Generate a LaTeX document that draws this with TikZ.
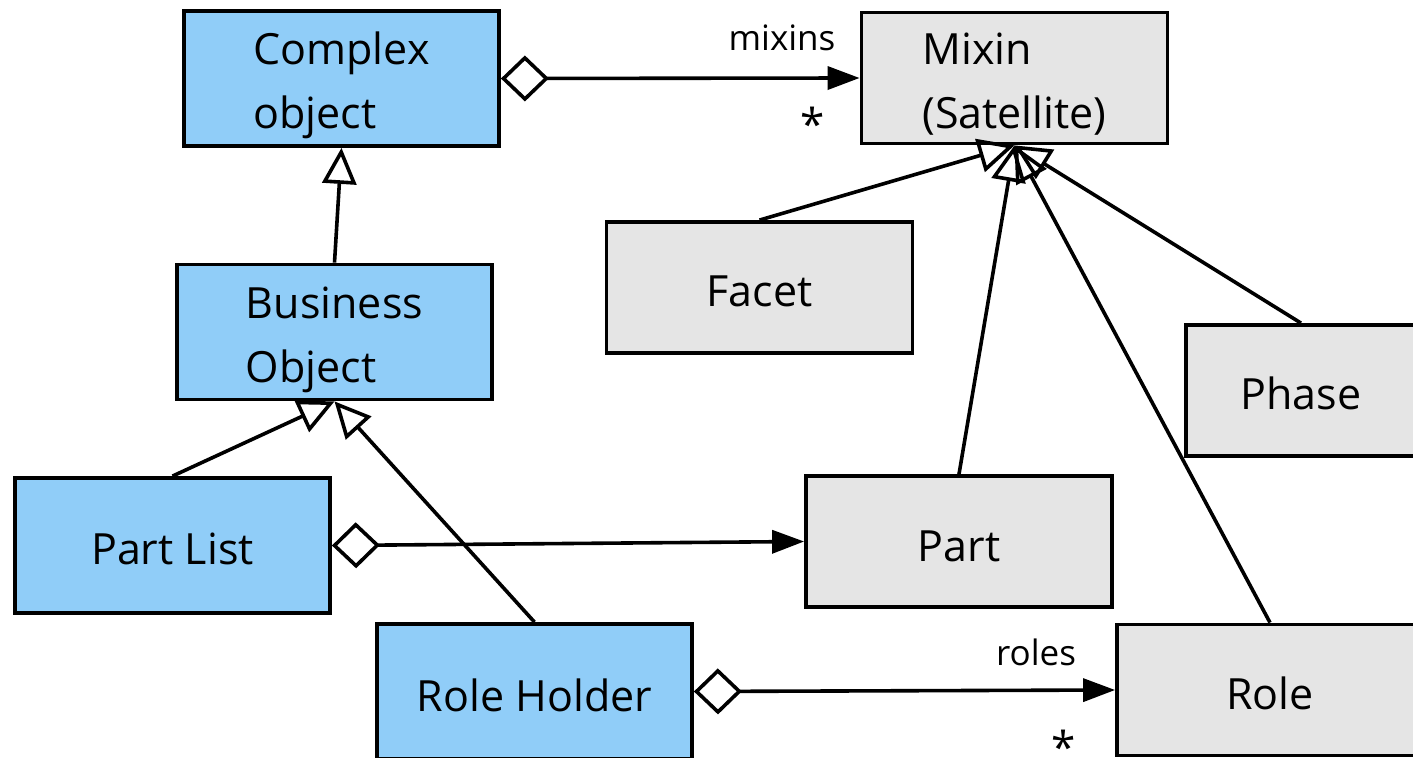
\documentclass[tikz,border=0pt]{standalone}
\usepackage{fontspec}
\setmainfont{Open Sans}
\usetikzlibrary{arrows.meta}
\definecolor{boblue}{HTML}{90CDF8}
\definecolor{mixgray}{HTML}{E5E5E5}
\newcommand\mytopstrut[1]{\rule{0pt}{#1}}
\newcommand\mybotstrut{\rule[-6pt]{0pt}{6pt}}
\begin{document}
\begin{tikzpicture}[x=0.5pt,y=-0.5pt,
  box/.style={draw=black, line width=1.9pt, inner sep=0pt, align=left,
    font=\fontsize{21.5}{32}\selectfont},
  bluebox/.style={box, fill=boblue, minimum width=157.5pt, minimum height=67.5pt},
  graybox/.style={box, fill=mixgray, minimum width=153pt, minimum height=65.5pt},
  gen/.style={line width=1.8pt, -{Triangle[open, length=18pt, width=17pt]}},
  assoc/.style={line width=1.8pt, {Diamond[open, length=24pt, width=23pt]}-{Triangle[length=16pt, width=11.5pt]}},
  lbl/.style={font=\fontsize{17.5}{20}\selectfont},
  starlbl/.style={font=\fontsize{22}{26}\selectfont, inner sep=0pt, text depth=-5.5pt, anchor=north}]
\useasboundingbox (0,0) rectangle (1413,758);
\node[bluebox] (complex) at (341.5,78.5) {\mytopstrut{24.5pt}Complex\\object\mybotstrut};
\node[graybox] (mixin) at (1014.5,78) {\mytopstrut{25pt}Mixin\\(Satellite)\mybotstrut};
\node[graybox] (facet) at (759.5,287.5) {\mytopstrut{25.5pt}Facet\mybotstrut};
\node[bluebox] (business) at (334.5,332) {\mytopstrut{25pt}Business\\Object\mybotstrut};
\node[graybox, minimum width=115pt] (phase) at (1301,390.5) {\mytopstrut{25.5pt}Phase\mybotstrut};
\node[bluebox] (partlist) at (172.5,545.5) {\mytopstrut{25.5pt}Part List\mybotstrut};
\node[graybox] (part) at (959,541.5) {\mytopstrut{25.5pt}Part\mybotstrut};
\node[bluebox] (roleholder) at (534.5,691.5) {\mytopstrut{25.5pt}Role Holder\mybotstrut};
\node[graybox] (role) at (1270,690) {\mytopstrut{25.5pt}Role\mybotstrut};
\node[lbl] (mixinslbl) at (782,38) {mixins};
\node[starlbl] (mixinsstar) at (813,107) {*};
\node[lbl] (roleslbl) at (1036,652) {roles};
\node[starlbl] (rolesstar) at (1063.5,730) {*};
\draw[assoc] (complex.east) -- (mixin.west);
\draw[assoc] (partlist.east) -- (part.west);
\draw[assoc] (roleholder.east) -- (role.west);
\draw[gen] (business.north) -- (complex.south);
\draw[gen] (facet.north) -- (mixin.south);
\draw[gen] (part.north) -- (mixin.south);
\draw[gen] (role.north) -- (mixin.south);
\draw[gen] (phase.north) -- (mixin.south);
\draw[gen] (partlist.north) -- (business.south);
\draw[gen] (roleholder.north) -- (business.south);
\end{tikzpicture}
\end{document}
